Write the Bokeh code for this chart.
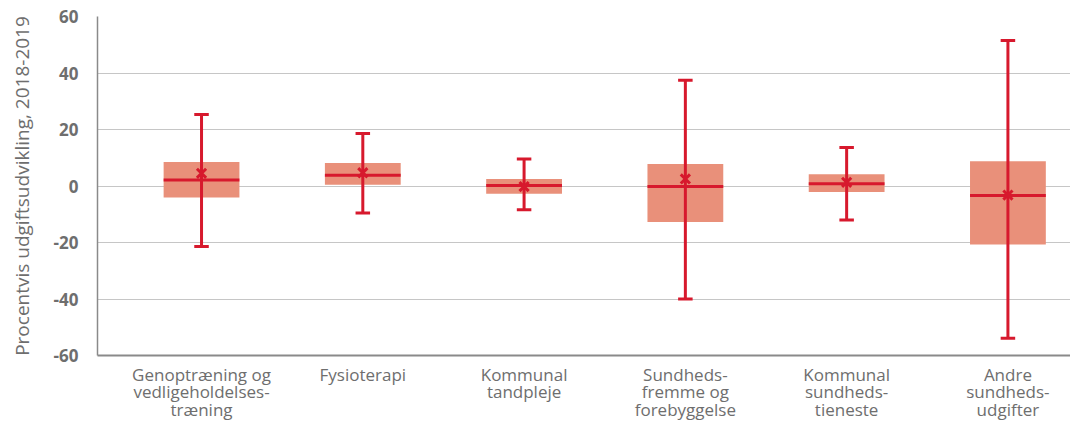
from bokeh.plotting import figure
from bokeh.models import Range1d, FixedTicker, ColumnDataSource
from bokeh.embed import file_html
from bokeh.resources import INLINE

categories = ["Genoptræning og\nvedligeholdelses-\ntræning", "Fysioterapi", "Kommunal\ntandpleje",
              "Sundheds-\nfremme og\nforebyggelse", "Kommunal\nsundheds-\ntieneste", "Andre\nsundheds-\nudgifter"]
box_low = [-4.1, 0.4, -2.7, -12.7, -2.1, -20.7]
box_high = [8.5, 8.1, 2.5, 7.8, 4.2, 8.8]
median = [2.1, 3.8, 0.2, -0.2, 0.8, -3.4]
mean = [4.5, 4.7, -0.2, 2.5, 1.3, -3.2]
whisker_low = [-21.4, -9.6, -8.4, -40.0, -12.0, -53.9]
whisker_high = [25.3, 18.6, 9.6, 37.4, 13.6, 51.5]
y_ticks = [-60, -40, -20, 0, 20, 40, 60]

RED = "#D7192D"
BOX = "#E9907A"
GREY = "#6E6E6E"
FONT = "Open Sans"

xs = list(range(len(categories)))
hw = 0.235
cw = 0.045
src = ColumnDataSource(dict(
    x=xs,
    left=[x - hw for x in xs], right=[x + hw for x in xs],
    cl=[x - cw for x in xs], cr=[x + cw for x in xs],
    lo=box_low, hi=box_high, med=median, mean=mean,
    wl=whisker_low, wh=whisker_high,
))

p = figure(width=1070, height=424, output_backend="svg", toolbar_location=None,
           x_range=Range1d(-0.645, 5.388), y_range=Range1d(-60, 60),
           min_border_left=97, min_border_right=0, min_border_top=16, min_border_bottom=68)
p.outline_line_color = None
p.background_fill_color = "white"

p.quad(left="left", right="right", bottom="lo", top="hi", source=src,
       fill_color=BOX, line_color=None)
p.segment(x0="x", x1="x", y0="wl", y1="wh", source=src, line_color=RED, line_width=3)
p.segment(x0="cl", x1="cr", y0="wl", y1="wl", source=src, line_color=RED, line_width=3)
p.segment(x0="cl", x1="cr", y0="wh", y1="wh", source=src, line_color=RED, line_width=3)
p.segment(x0="left", x1="right", y0="med", y1="med", source=src, line_color=RED, line_width=3)
p.scatter(x="x", y="mean", source=src, marker="x", size=13, line_color=RED, line_width=3)

p.xgrid.visible = False
p.ygrid.ticker = FixedTicker(ticks=y_ticks)
p.ygrid.grid_line_color = "#8C8C8C"
p.ygrid.grid_line_dash = "1 1"
p.ygrid.grid_line_width = 1

ya = p.yaxis[0]
ya.ticker = FixedTicker(ticks=y_ticks)
ya.major_label_overrides = {t: str(t) for t in y_ticks}
ya.axis_label = "Procentvis udgiftsudvikling, 2018-2019"
ya.axis_label_text_font = FONT
ya.axis_label_text_font_style = "normal"
ya.axis_label_text_font_size = "19px"
ya.axis_label_text_line_height = 0.9
ya.axis_label_text_color = GREY
ya.axis_label_standoff = 16
ya.major_label_text_font = FONT
ya.major_label_text_font_style = "bold"
ya.major_label_text_font_size = "17px"
ya.major_label_text_color = GREY
ya.major_label_standoff = 13
ya.major_tick_line_color = None
ya.minor_tick_line_color = None
ya.axis_line_color = "#8A8A8A"
ya.axis_line_width = 1.5

xa = p.xaxis[0]
xa.ticker = FixedTicker(ticks=xs)
xa.major_label_overrides = {i: c for i, c in enumerate(categories)}
xa.major_label_text_font = FONT
xa.major_label_text_font_size = "17px"
xa.major_label_text_color = GREY
xa.major_label_text_line_height = 0.78
xa.major_label_standoff = 1
xa.major_tick_line_color = None
xa.minor_tick_line_color = None
xa.axis_line_color = "#8A8A8A"
xa.axis_line_width = 2

open("out.html", "w").write(file_html(p, INLINE))
